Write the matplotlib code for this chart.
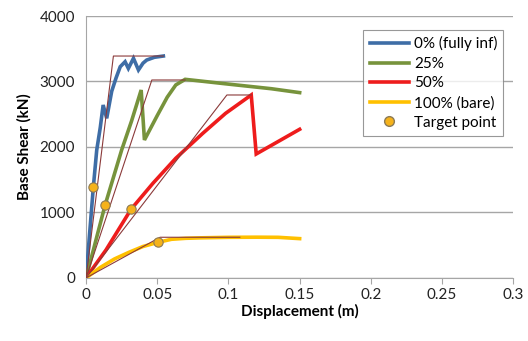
import matplotlib.pyplot as plt
from matplotlib.lines import Line2D

plt.rcParams['font.family'] = ['Lato', 'DejaVu Sans']

# capacity curves (displacement m, base shear kN)
blue_x = [0, 0.0051, 0.0075, 0.010, 0.012, 0.0145, 0.018, 0.021, 0.024, 0.0274,
          0.0297, 0.0333, 0.0368, 0.040, 0.0426, 0.048, 0.0543]
blue_y = [0, 1385, 1954, 2300, 2641, 2438, 2850, 3050, 3226, 3302,
          3200, 3354, 3176, 3280, 3328, 3370, 3389]

green_x = [0, 0.0134, 0.025, 0.032, 0.0387, 0.041, 0.050, 0.057, 0.063, 0.0696, 0.10, 0.13, 0.15]
green_y = [0, 1115, 1954, 2400, 2870, 2107, 2480, 2760, 2947, 3033, 2960, 2890, 2830]

red_x = [0, 0.007, 0.014, 0.0316, 0.047, 0.063, 0.082, 0.098, 0.116, 0.1195, 0.15]
red_y = [0, 215, 427, 1049, 1446, 1827, 2209, 2514, 2794, 1893, 2270]

yellow_x = [0, 0.010, 0.020, 0.030, 0.040, 0.0508, 0.060, 0.070, 0.080, 0.100, 0.120, 0.135, 0.150]
yellow_y = [0, 160, 290, 390, 480, 545, 590, 605, 612, 620, 622, 620, 600]

# idealised bilinear curves
bil_blue_x = [0, 0.0192, 0.0543]
bil_blue_y = [0, 3389, 3389]
bil_green_x = [0, 0.0462, 0.0696]
bil_green_y = [0, 3023, 3023]
bil_red_x = [0, 0.0989, 0.116]
bil_red_y = [0, 2794, 2794]
bil_yellow_x = [0, 0.052, 0.108]
bil_yellow_y = [0, 621, 621]

target_x = [0.0051, 0.0134, 0.0316, 0.0508]
target_y = [1385, 1115, 1049, 545]

labels = ["0% (fully inf)", "25%", "50%", "100% (bare)", "Target point"]
colors = ["#3E6DA6", "#77933C", "#EE1C1C", "#FFC000"]
bil_color = "#8B3A3A"

fig = plt.figure(figsize=(5.28, 3.41), dpi=100)
ax = fig.add_axes([0.163, 0.185, 0.809, 0.768])

curves = [(blue_x, blue_y), (green_x, green_y), (red_x, red_y), (yellow_x, yellow_y)]
for (xs, ys), c in zip(curves, colors):
    ax.plot(xs, ys, color=c, lw=2.6, solid_joinstyle="miter", zorder=3)

for xs, ys in [(bil_blue_x, bil_blue_y), (bil_green_x, bil_green_y),
               (bil_red_x, bil_red_y), (bil_yellow_x, bil_yellow_y)]:
    ax.plot(xs, ys, color=bil_color, lw=0.8, zorder=4)

ax.scatter(target_x, target_y, s=45, color="#F5B21B", edgecolor="#8C7A55",
           linewidth=0.8, zorder=5)

ax.set_xlim(0, 0.3)
ax.set_ylim(0, 4000)
ax.set_xticks([0, 0.05, 0.1, 0.15, 0.2, 0.25, 0.3])
ax.set_xticklabels(["0", "0.05", "0.1", "0.15", "0.2", "0.25", "0.3"])
ax.set_yticks([0, 1000, 2000, 3000, 4000])
ax.yaxis.grid(True, color="#A6A6A6", lw=1)
ax.set_axisbelow(True)
for s in ["top", "right"]:
    ax.spines[s].set_visible(False)
ax.spines["left"].set_color("#A6A6A6")
ax.spines["bottom"].set_color("#A6A6A6")
ax.tick_params(axis="y", length=0, labelsize=11, colors="#222222", pad=8)
ax.tick_params(axis="x", length=4, color="#A6A6A6", labelsize=11,
               labelcolor="#222222", direction="out")

ax.set_xlabel("Displacement (m)", fontsize=11, fontweight="bold", labelpad=1)
ax.set_ylabel("Base Shear (kN)", fontsize=11, fontweight="bold", labelpad=6)

handles = [Line2D([0], [0], color=c, lw=2.6) for c in colors]
handles.append(Line2D([0], [0], marker="o", ls="none", markersize=7,
                      markerfacecolor="#F5B21B", markeredgecolor="#8C7A55"))
leg = ax.legend(handles, labels, loc="upper right", bbox_to_anchor=(0.995, 0.975),
                fontsize=11, frameon=True, fancybox=False, handlelength=2.6,
                handletextpad=0.3, borderpad=0.4, labelspacing=0.36)
leg.get_frame().set_edgecolor("#7F7F7F")
leg.get_frame().set_linewidth(0.8)

fig.savefig("out.png", dpi=100)
